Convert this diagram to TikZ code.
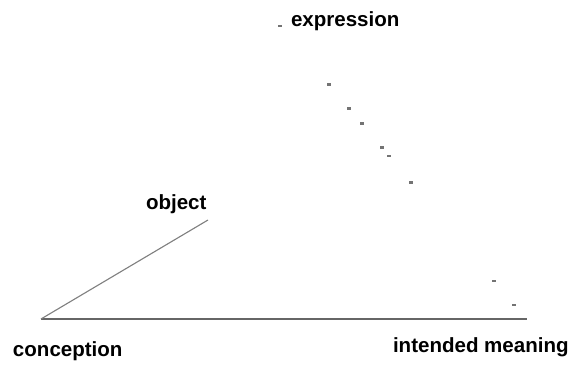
\documentclass[tikz,border=0pt]{standalone}
\usepackage{fontspec}
\setmainfont{Liberation Sans}
\begin{document}
\begin{tikzpicture}[x=0.025cm, y=-0.025cm,
  lbl/.style={anchor=base west, inner sep=0, outer sep=0, font=\bfseries\fontsize{14.6}{16}\selectfont},
  dotmark/.style={fill=black!55, inner sep=0, outer sep=0, minimum width=3, minimum height=2}]
  \useasboundingbox (0,0) rectangle (568,365);
  \coordinate (conc) at (41,319);
  \coordinate (obj) at (208,220);
  \coordinate (expr) at (280,26);
  \coordinate (mean) at (514,305);
  \coordinate (axis) at (527,319);
  \draw node [lbl] (conclbl) at (13,357) {conception};
  \draw node [lbl] (objlbl) at (146,210) {object};
  \draw node [lbl] (exprlbl) at (291,27) {expression};
  \draw node [lbl] (meanlbl) at (393,353) {intended meaning};
  \draw [black!60, line width=0.9pt] (conc) -- (axis);
  \draw [black!50, line width=0.8pt] (conc) -- (obj);
  \path (expr) -- (mean) foreach \t in {0,0.209,0.295,0.350,0.436,0.466,0.560,0.914,1} {node[pos=\t, dotmark] {}};
\end{tikzpicture}
\end{document}
